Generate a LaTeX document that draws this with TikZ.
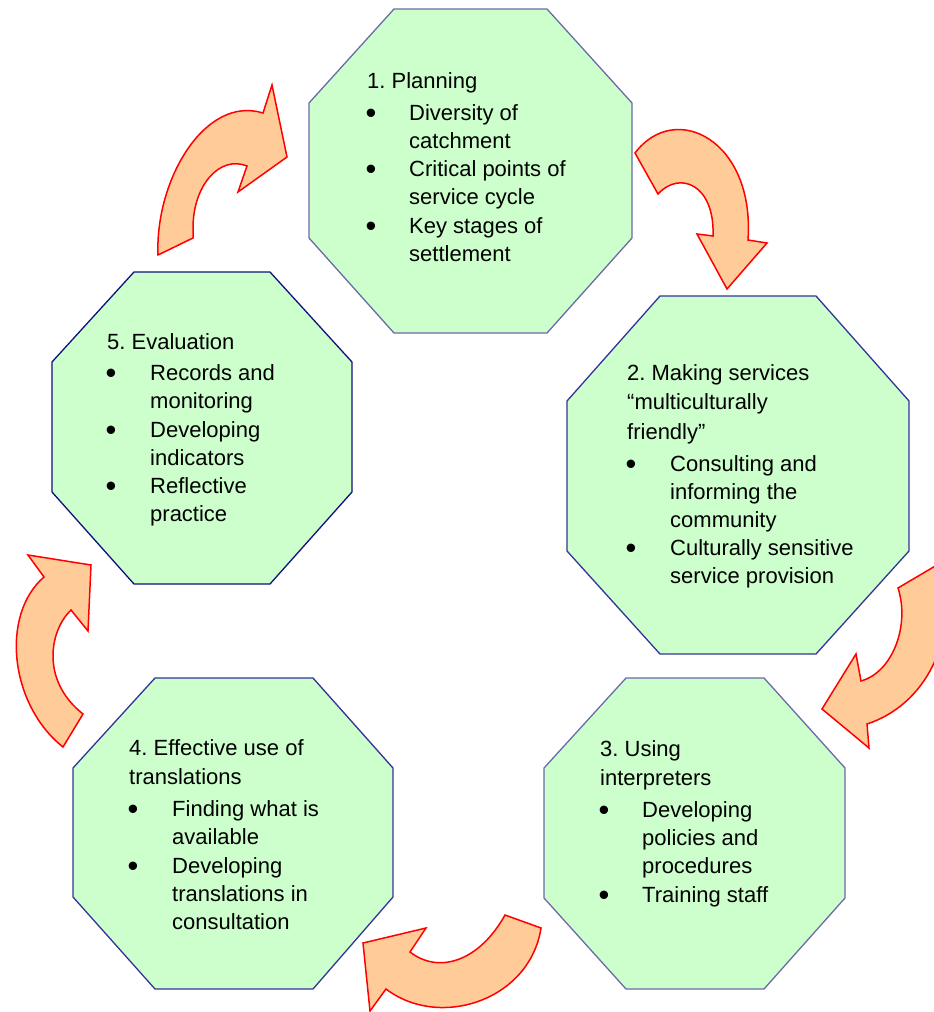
\documentclass[tikz,border=0pt]{standalone}
\usepackage{fontspec}
\setmainfont{Liberation Sans}
\usepackage{array}
\usepackage{graphicx}
\frenchspacing
\definecolor{boxfill}{HTML}{CCFFCC}
\definecolor{edgeslate}{HTML}{6B6BA8}
\definecolor{edgeblue}{HTML}{33339A}
\definecolor{edgenavy}{HTML}{10107F}
\definecolor{arrowfill}{HTML}{FFCC99}
\definecolor{arrowedge}{HTML}{FF0000}
% list bullet, a little larger and lower than the plain glyph
\newcommand{\itemdot}{\hspace*{-1.5pt}\raisebox{-3.2pt}{\scalebox{1.4}{\textbullet}}}
\begin{document}
\begin{tikzpicture}[x=1pt,y=-1pt,
  octbox/.style={fill=boxfill,line width=1.3pt,line join=miter},
  blockarrow/.style={fill=arrowfill,draw=arrowedge,line width=1.5pt,line join=miter},
  lbl/.style={anchor=base west,inner sep=0pt,font=\fontsize{22}{28}\selectfont}]
\useasboundingbox (0,0) rectangle (934,1012);

% stage octagons
\draw[octbox,draw=edgeslate] (394,9) -- (547,9) -- (632,103) -- (632,238) -- (547,333) -- (394,333) -- (309,238) -- (309,103) -- cycle;
\draw[octbox,draw=edgeblue] (660,296) -- (816,296) -- (909,401) -- (909,551) -- (816,654) -- (660,654) -- (567,551) -- (567,401) -- cycle;
\draw[octbox,draw=edgeslate] (626,678) -- (764,678) -- (845,768) -- (845,898) -- (764,989) -- (626,989) -- (544,898) -- (544,768) -- cycle;
\draw[octbox,draw=edgeblue] (155,678) -- (313,678) -- (393,768) -- (393,897) -- (313,989) -- (155,989) -- (73,897) -- (73,768) -- cycle;
\draw[octbox,draw=edgenavy] (134,272) -- (270,272) -- (352,362) -- (352,492) -- (270,584) -- (134,584) -- (52,492) -- (52,362) -- cycle;

% stage texts
\node[lbl] (planning) at (367,88) {\begin{tabular}[t]{@{}p{42pt}@{}l@{}}
\multicolumn{2}{@{}l@{}}{1. Planning}\\[4pt]
\itemdot & Diversity of\\
 & catchment\\[0.5pt]
\itemdot & Critical points of\\
 & service cycle\\[0.5pt]
\itemdot & Key stages of\\
 & settlement
\end{tabular}};

\node[lbl] (making) at (627,380) {\begin{tabular}[t]{@{}p{43pt}@{}l@{}}
\multicolumn{2}{@{}l@{}}{2. Making services}\\[1.5pt]
\multicolumn{2}{@{}l@{}}{“multiculturally}\\[1.5pt]
\multicolumn{2}{@{}l@{}}{friendly”}\\[4pt]
\itemdot & Consulting and\\
 & informing the\\
 & community\\[0.5pt]
\itemdot & Culturally sensitive\\
 & service provision
\end{tabular}};

\node[lbl] (interp) at (600,756) {\begin{tabular}[t]{@{}p{42pt}@{}l@{}}
\multicolumn{2}{@{}l@{}}{3. Using}\\[1.5pt]
\multicolumn{2}{@{}l@{}}{interpreters}\\[4pt]
\itemdot & Developing\\
 & policies and\\
 & procedures\\[0.5pt]
\itemdot & Training staff
\end{tabular}};

\node[lbl] (transl) at (129,755) {\begin{tabular}[t]{@{}p{43pt}@{}l@{}}
\multicolumn{2}{@{}l@{}}{4. Effective use of}\\[1.5pt]
\multicolumn{2}{@{}l@{}}{translations}\\[4pt]
\itemdot & Finding what is\\
 & available\\[0.5pt]
\itemdot & Developing\\
 & translations in\\
 & consultation
\end{tabular}};

\node[lbl] (evalu) at (107,349) {\begin{tabular}[t]{@{}p{43pt}@{}l@{}}
\multicolumn{2}{@{}l@{}}{5. Evaluation}\\[3.5pt]
\itemdot & Records and\\
 & monitoring\\[0.5pt]
\itemdot & Developing\\
 & indicators\\[0.5pt]
\itemdot & Reflective\\
 & practice
\end{tabular}};

% curved block arrows of the cycle
\begin{scope}
\clip (0,0) rectangle (934,1012);
% 5 -> 1
\draw[blockarrow] (158,255) .. controls (155,180) and (205,95) .. (263,113)
  -- (272,85) -- (287,157) -- (238,192) -- (247,166)
  .. controls (220,155) and (193,185) .. (193,228) -- (193,238) -- cycle;
% 1 -> 2
\draw[blockarrow] (635,153) .. controls (675,100) and (755,140) .. (748,240)
  -- (767,243) -- (727,289) -- (697,234) -- (713,236)
  .. controls (715,185) and (680,170) .. (658,194) -- cycle;
% 2 -> 3
\draw[blockarrow] (898,588) -- (942,562) .. controls (960,640) and (925,705) .. (867,724)
  -- (869,748) -- (822,709) -- (856,654) -- (861,681)
  .. controls (893,672) and (910,625) .. (898,588) -- cycle;
% 3 -> 4
\draw[blockarrow] (505,915) .. controls (480,960) and (440,975) .. (410,952)
  -- (426,928) -- (363,943) -- (370,1011) -- (386,989)
  .. controls (440,1030) and (530,1000) .. (541,928) -- cycle;
% 4 -> 5
\draw[blockarrow] (63,747) .. controls (10,705) and (0,615) .. (44,577)
  -- (28,555) -- (91,565) -- (88,631) -- (71,610)
  .. controls (50,630) and (40,680) .. (83,714) -- cycle;
\end{scope}
\end{tikzpicture}
\end{document}
